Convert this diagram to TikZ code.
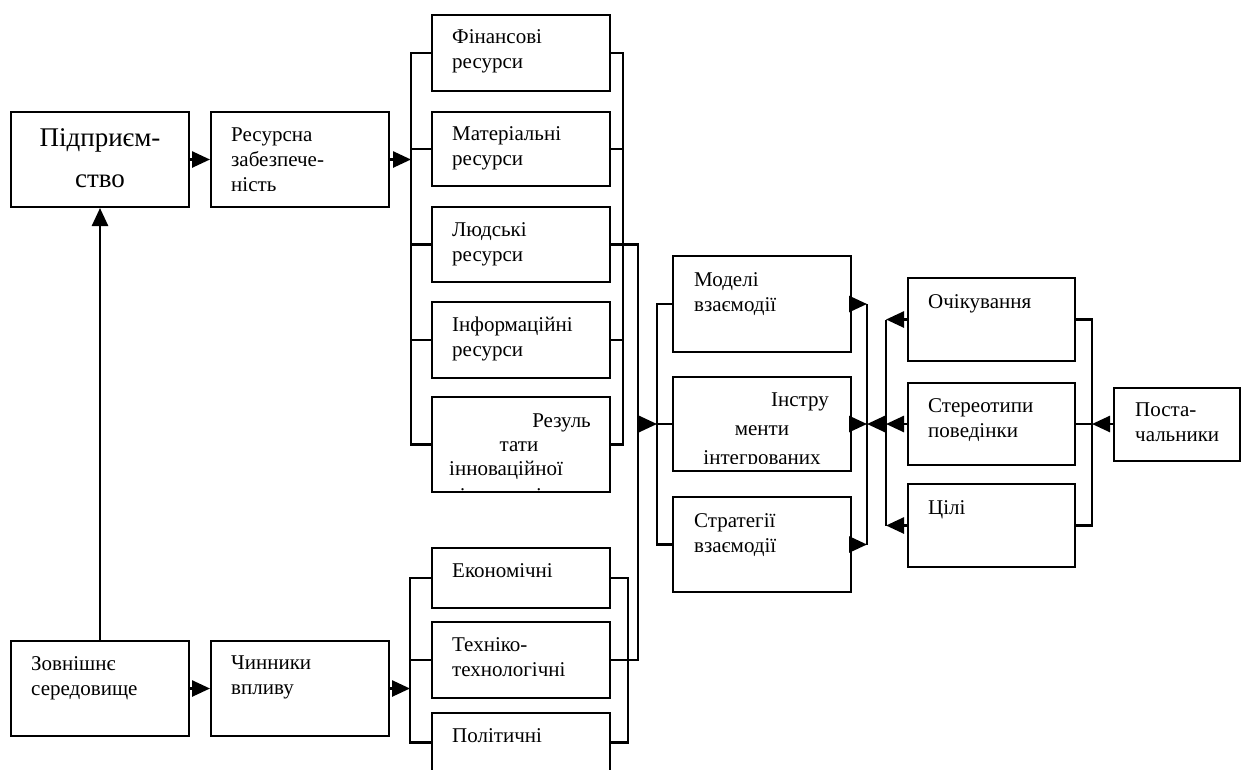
\documentclass[tikz,border=0pt]{standalone}
\usepackage{fontspec}
\setmainfont{Liberation Serif}
\usetikzlibrary{arrows.meta}
\tikzset{
  box/.style={draw, line width=2pt, inner sep=0pt},
  txt/.style={font=\fontsize{21}{25}\selectfont, align=left, inner sep=0pt, anchor=north west},
  line/.style={line width=2.6pt},
  arr/.style={line width=2.6pt, -{Triangle[length=18pt,width=16pt]}},
}
\begin{document}
\begin{tikzpicture}[x=1pt, y=-1pt]
  \path[use as bounding box, fill=white] (0,0) rectangle (1242,769);

  % left column
  \node [box, minimum width=178pt, minimum height=95pt] (pid) at (100,159.5) {};
  \node [box, minimum width=178pt, minimum height=95pt] (res) at (300,159.5) {};
  \node [box, minimum width=178pt, minimum height=95pt] (zov) at (100,688.5) {};
  \node [box, minimum width=178pt, minimum height=95pt] (chyn) at (300,688.5) {};

  % resources
  \node [box, minimum width=178pt, minimum height=76pt] (fin) at (521,53) {};
  \node [box, minimum width=178pt, minimum height=74pt] (mat) at (521,149) {};
  \node [box, minimum width=178pt, minimum height=75pt] (lud) at (521,244.5) {};
  \node [box, minimum width=178pt, minimum height=76pt] (inf) at (521,340) {};
  \node [box, minimum width=178pt, minimum height=95pt] (rez) at (521,444.5) {};

  % factors
  \node [box, minimum width=178pt, minimum height=60pt] (eko) at (521,578) {};
  \node [box, minimum width=178pt, minimum height=76pt] (teh) at (521,660) {};
  \node [box, minimum width=178pt, minimum height=59pt] (pol) at (521,742.5) {};

  % interaction
  \node [box, minimum width=178pt, minimum height=96pt] (mod) at (762,304) {};
  \node [box, minimum width=178pt, minimum height=94pt] (ins) at (762,424) {};
  \node [box, minimum width=178pt, minimum height=95pt] (str) at (762,544.5) {};

  % right column
  \node [box, minimum width=167pt, minimum height=83pt] (och) at (991.5,319.5) {};
  \node [box, minimum width=167pt, minimum height=82pt] (ster) at (991.5,424) {};
  \node [box, minimum width=167pt, minimum height=83pt] (cil) at (991.5,525.5) {};
  \node [box, minimum width=126pt, minimum height=73pt] (post) at (1177,424) {};

  % texts
  \node [font=\fontsize{27}{41}\selectfont, align=center, inner sep=0pt] (pid-t) at (100,158.5) {Підприєм-\\ство};
  \node [txt] (res-t) at ([shift={(21,17)}]res.north west) {Ресурсна\\забезпече-\\ність};
  \node [txt] (zov-t) at ([shift={(21,16)}]zov.north west) {Зовнішнє\\середовище};
  \node [txt] (chyn-t) at ([shift={(21,16)}]chyn.north west) {Чинники\\впливу};
  \node [txt] (fin-t) at ([shift={(21,15)}]fin.north west) {Фінансові\\ресурси};
  \node [txt] (mat-t) at ([shift={(21,15)}]mat.north west) {Матеріальні\\ресурси};
  \node [txt] (lud-t) at ([shift={(21,16)}]lud.north west) {Людські\\ресурси};
  \node [txt] (inf-t) at ([shift={(21,16)}]inf.north west) {Інформаційні\\ресурси};
  \node [txt] (eko-t) at ([shift={(21,16)}]eko.north west) {Економічні};
  \node [txt] (teh-t) at ([shift={(21,16)}]teh.north west) {Техніко-\\технологічні};
  \node [txt] (pol-t) at ([shift={(21,16)}]pol.north west) {Політичні};
  \node [txt] (mod-t) at ([shift={(22,17)}]mod.north west) {Моделі\\взаємодії};
  \node [txt] (str-t) at ([shift={(22,17)}]str.north west) {Стратегії\\взаємодії};
  \node [txt] (och-t) at ([shift={(21,17)}]och.north west) {Очікування};
  \node [txt] (ster-t) at ([shift={(21,16)}]ster.north west) {Стереотипи\\поведінки};
  \node [txt] (cil-t) at ([shift={(21,17)}]cil.north west) {Цілі};
  \node [txt] (post-t) at ([shift={(22,16)}]post.north west) {Поста-\\чальники};

  \begin{scope}
    \clip ([shift={(1,1)}]rez.north west) rectangle ([shift={(-1,-2)}]rez.south east);
    \node [txt, anchor=base east] (rez-a) at ([shift={(-20,31)}]rez.north east) {Резуль};
    \node [txt, anchor=base] (rez-b) at ([shift={(-2,55)}]rez.north) {тати};
    \node [txt, anchor=base west] (rez-c) at ([shift={(18,79)}]rez.north west) {інноваційної};
    \node [txt, anchor=base west] (rez-d) at ([shift={(18,106)}]rez.north west) {діяльності};
  \end{scope}
  \begin{scope}
    \clip ([shift={(1,1)}]ins.north west) rectangle ([shift={(-1,-9)}]ins.south east);
    \node [txt, anchor=base east] (ins-a) at ([shift={(-23,30)}]ins.north east) {Інстру};
    \node [txt, anchor=base] (ins-b) at ([shift={(0,59)}]ins.north) {менти};
    \node [txt, anchor=base] (ins-c) at ([shift={(0,88)}]ins.north) {інтегрованих};
  \end{scope}

  % bus points
  \coordinate (rl) at (411,159.5);
  \coordinate (rr) at (623,244.5);
  \coordinate (lng) at (638,424);
  \coordinate (ml) at (657,424);
  \coordinate (fl) at (410,688.5);
  \coordinate (fr) at (628,660);
  \coordinate (mr) at (867,424);
  \coordinate (rl2) at (886,424);
  \coordinate (rr2) at (1092,424);

  % connectors
  \draw [arr] (pid) -- (res);
  \draw [arr] (res.east) -- (rl);
  \draw [line] (fin.west) -| (rl) |- (rez.west);
  \foreach \n in {mat,lud,inf} \draw [line] (\n.west) -- (\n.west -| rl);
  \draw [line] (fin.east) -| (rr) |- (rez.east);
  \foreach \n in {mat,inf} \draw [line] (\n.east) -- (\n.east -| rr);
  \draw [line] (lud.east) -| (lng) |- (teh.east);
  \draw [arr] (lng) -- (ml);
  \draw [line] (mod.west) -| (ml) |- (str.west);
  \draw [line] (ins.west) -- (ml);

  \draw [arr] (zov) -- (pid);
  \draw [arr] (zov) -- (chyn);
  \draw [arr] (chyn.east) -- (fl);
  \draw [line] (eko.west) -| (fl) |- (pol.west);
  \draw [line] (teh.west) -- (teh.west -| fl);
  \draw [line] (eko.east) -| (fr) |- (pol.east);

  \foreach \n in {mod,ins,str} \draw [arr] (\n.east) -- (\n.east -| mr);
  \draw [line] (mod.east -| mr) -- (str.east -| mr);
  \draw [arr] (rl2) -- (mr);
  \foreach \n in {och,ster,cil} \draw [arr] (\n.west) -- (\n.west -| rl2);
  \draw [line] (och.west -| rl2) -- (cil.west -| rl2);
  \draw [line] (och.east) -| (rr2) |- (cil.east);
  \draw [line] (ster.east) -- (rr2);
  \draw [arr] (post) -- (rr2);
\end{tikzpicture}
\end{document}
